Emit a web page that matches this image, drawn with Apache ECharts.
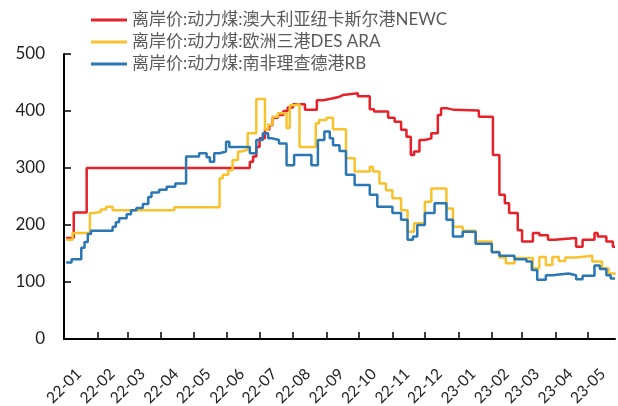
<!DOCTYPE html>
<html>
<head>
<meta charset="utf-8">
<script src="https://cdn.jsdelivr.net/npm/echarts@6/dist/echarts.min.js"></script>
<style>
  html, body { margin: 0; padding: 0; background: #fff; }
  #chart { width: 618px; height: 406px; }
</style>
</head>
<body>
<div id="chart"></div>
<script>
// series names (legend)
const seriesNames = [
  '离岸价:动力煤:澳大利亚纽卡斯尔港NEWC',
  '离岸价:动力煤:欧洲三港DES ARA',
  '离岸价:动力煤:南非理查德港RB'
];
const seriesColors = ['#e62129', '#f8c12e', '#2a77b4'];

// change points [date, price]
const newcData = [
  ['2022-01-03', 177], ['2022-01-10', 222], ['2022-01-22', 300], ['2022-06-22', 311],
  ['2022-06-25', 320], ['2022-06-28', 337], ['2022-07-01', 352], ['2022-07-06', 367],
  ['2022-07-10', 375], ['2022-07-13', 388], ['2022-07-18', 393], ['2022-07-23', 400],
  ['2022-07-27', 406], ['2022-08-01', 412], ['2022-08-12', 402], ['2022-08-23', 419],
  ['2022-08-29', 422], ['2022-09-06', 425], ['2022-09-13', 428], ['2022-09-16', 431],
  ['2022-09-30', 426], ['2022-10-11', 403], ['2022-10-15', 399], ['2022-10-28', 388],
  ['2022-11-03', 381], ['2022-11-09', 367], ['2022-11-14', 355], ['2022-11-18', 323],
  ['2022-11-21', 329], ['2022-11-26', 349], ['2022-12-01', 352], ['2022-12-07', 361],
  ['2022-12-13', 393], ['2022-12-16', 405], ['2022-12-21', 402], ['2022-12-28', 401],
  ['2023-01-20', 390], ['2023-02-02', 323], ['2023-02-08', 253], ['2023-02-13', 238],
  ['2023-02-17', 221], ['2023-02-25', 191], ['2023-03-01', 171], ['2023-03-11', 186],
  ['2023-03-17', 182], ['2023-03-25', 174], ['2023-03-31', 177], ['2023-04-20', 162],
  ['2023-04-26', 174], ['2023-05-07', 186], ['2023-05-10', 180], ['2023-05-18', 171],
  ['2023-05-24', 162], ['2023-05-26', 162]
];

const araData = [
  ['2022-01-03', 174], ['2022-01-09', 186], ['2022-01-25', 221], ['2022-01-28', 223],
  ['2022-02-04', 227], ['2022-02-09', 232], ['2022-02-15', 226], ['2022-04-13', 231],
  ['2022-05-25', 282], ['2022-05-28', 288], ['2022-06-02', 296], ['2022-06-06', 314],
  ['2022-06-11', 329], ['2022-06-14', 332], ['2022-06-20', 361], ['2022-06-28', 421],
  ['2022-07-06', 367], ['2022-07-09', 376], ['2022-07-13', 390], ['2022-07-18', 396],
  ['2022-07-26', 370], ['2022-07-29', 410], ['2022-08-02', 412], ['2022-08-07', 337],
  ['2022-08-22', 378], ['2022-08-25', 384], ['2022-09-01', 388], ['2022-09-07', 368],
  ['2022-09-19', 317], ['2022-09-27', 294], ['2022-10-11', 302], ['2022-10-14', 294],
  ['2022-10-20', 273], ['2022-10-26', 261], ['2022-11-01', 247], ['2022-11-09', 226],
  ['2022-11-15', 188], ['2022-11-21', 203], ['2022-12-01', 241], ['2022-12-07', 264],
  ['2022-12-21', 229], ['2022-12-27', 197], ['2023-01-05', 190], ['2023-01-17', 171],
  ['2023-02-01', 153], ['2023-02-08', 143], ['2023-02-14', 133], ['2023-02-22', 142],
  ['2023-03-11', 124], ['2023-03-17', 144], ['2023-03-23', 130], ['2023-03-29', 144],
  ['2023-04-04', 137], ['2023-04-10', 143], ['2023-04-20', 146], ['2023-05-05', 136],
  ['2023-05-14', 124], ['2023-05-20', 115], ['2023-05-26', 113]
];

const rbData = [
  ['2022-01-03', 134], ['2022-01-08', 140], ['2022-01-17', 160], ['2022-01-20', 170],
  ['2022-01-23', 184], ['2022-01-26', 190], ['2022-02-15', 197], ['2022-02-18', 205],
  ['2022-02-21', 212], ['2022-02-28', 219], ['2022-03-04', 226], ['2022-03-09', 230],
  ['2022-03-15', 237], ['2022-03-20', 249], ['2022-03-23', 257], ['2022-03-30', 262],
  ['2022-04-06', 267], ['2022-04-14', 273], ['2022-04-24', 320], ['2022-05-06', 326],
  ['2022-05-13', 319], ['2022-05-16', 311], ['2022-05-20', 326], ['2022-05-25', 329],
  ['2022-05-31', 346], ['2022-06-03', 337], ['2022-06-22', 326], ['2022-06-28', 349],
  ['2022-07-04', 361], ['2022-07-09', 352], ['2022-07-13', 349], ['2022-07-19', 343],
  ['2022-07-26', 305], ['2022-08-02', 323], ['2022-08-18', 305], ['2022-08-24', 349],
  ['2022-08-30', 364], ['2022-09-04', 352], ['2022-09-07', 340], ['2022-09-13', 330],
  ['2022-09-19', 288], ['2022-09-27', 270], ['2022-10-11', 253], ['2022-10-18', 232],
  ['2022-11-01', 221], ['2022-11-09', 209], ['2022-11-15', 174], ['2022-11-20', 180],
  ['2022-11-24', 200], ['2022-12-01', 221], ['2022-12-10', 238], ['2022-12-21', 209],
  ['2022-12-27', 180], ['2023-01-05', 188], ['2023-01-17', 167], ['2023-02-01', 152],
  ['2023-02-08', 146], ['2023-02-22', 140], ['2023-03-05', 136], ['2023-03-10', 121],
  ['2023-03-15', 104], ['2023-03-23', 112], ['2023-03-29', 115], ['2023-04-13', 112],
  ['2023-04-20', 105], ['2023-04-26', 111], ['2023-05-07', 129], ['2023-05-12', 123],
  ['2023-05-18', 112], ['2023-05-22', 106], ['2023-05-26', 105]
];

const yTicks = [0, 100, 200, 300, 400, 500];

const chart = echarts.init(document.getElementById('chart'), null, { renderer: 'canvas' });

function mkSeries(name, data, color) {
    return {
        name: name,
        type: 'line',
        step: 'end',
        data: data,
        showSymbol: false,
        symbol: 'none',
        lineStyle: { color: color, width: 2.5 },
        itemStyle: { color: color },
        animation: false
    };
}

const option = {
    animation: false,
    textStyle: { fontFamily: 'Lato, "Noto Sans CJK SC", sans-serif' },
    legend: {
        orient: 'vertical',
        left: 86,
        top: 6,
        itemWidth: 36,
        itemHeight: 3,
        itemGap: 4,
        icon: 'rect',
        textStyle: {
            fontSize: 17,
            color: '#5a5a5a',
            lineHeight: 18,
            fontFamily: 'Lato, "Noto Sans CJK SC", sans-serif'
        },
        data: seriesNames
    },
    grid: {
        left: 64,
        right: 3,
        top: 54,
        bottom: 67,
        containLabel: false,
        outerBoundsMode: 'none'
    },
    xAxis: {
        type: 'time',
        min: '2022-01-01',
        max: '2023-05-26',
        splitNumber: 17,
        minInterval: 28 * 86400000,
        maxInterval: 31 * 86400000,
        axisLine: { lineStyle: { color: '#000', width: 2 } },
        axisTick: { show: true, inside: true, length: 7, lineStyle: { color: '#000', width: 1.5 } },
        splitLine: { show: false },
        axisLabel: {
            rotate: 45,
            margin: 47,
            align: 'center',
            verticalAlign: 'middle',
            fontSize: 15.5,
            color: '#222',
            hideOverlap: false,
            formatter: function (val) {
                const d = new Date(val);
                const yy = String(d.getFullYear()).slice(2);
                const mm = String(d.getMonth() + 1).padStart(2, '0');
                return yy + '-' + mm;
            }
        }
    },
    yAxis: {
        type: 'value',
        min: yTicks[0],
        max: yTicks[yTicks.length - 1],
        interval: 100,
        axisLine: { show: true, lineStyle: { color: '#000', width: 2 } },
        axisTick: { show: true, inside: true, length: 7, lineStyle: { color: '#000', width: 1.5 } },
        splitLine: { show: false },
        axisLabel: { fontSize: 17, color: '#222', margin: 19 }
    },
    series: [
        mkSeries(seriesNames[0], newcData, seriesColors[0]),
        mkSeries(seriesNames[1], araData, seriesColors[1]),
        mkSeries(seriesNames[2], rbData, seriesColors[2])
    ]
};

chart.setOption(option);
</script>
</body>
</html>
